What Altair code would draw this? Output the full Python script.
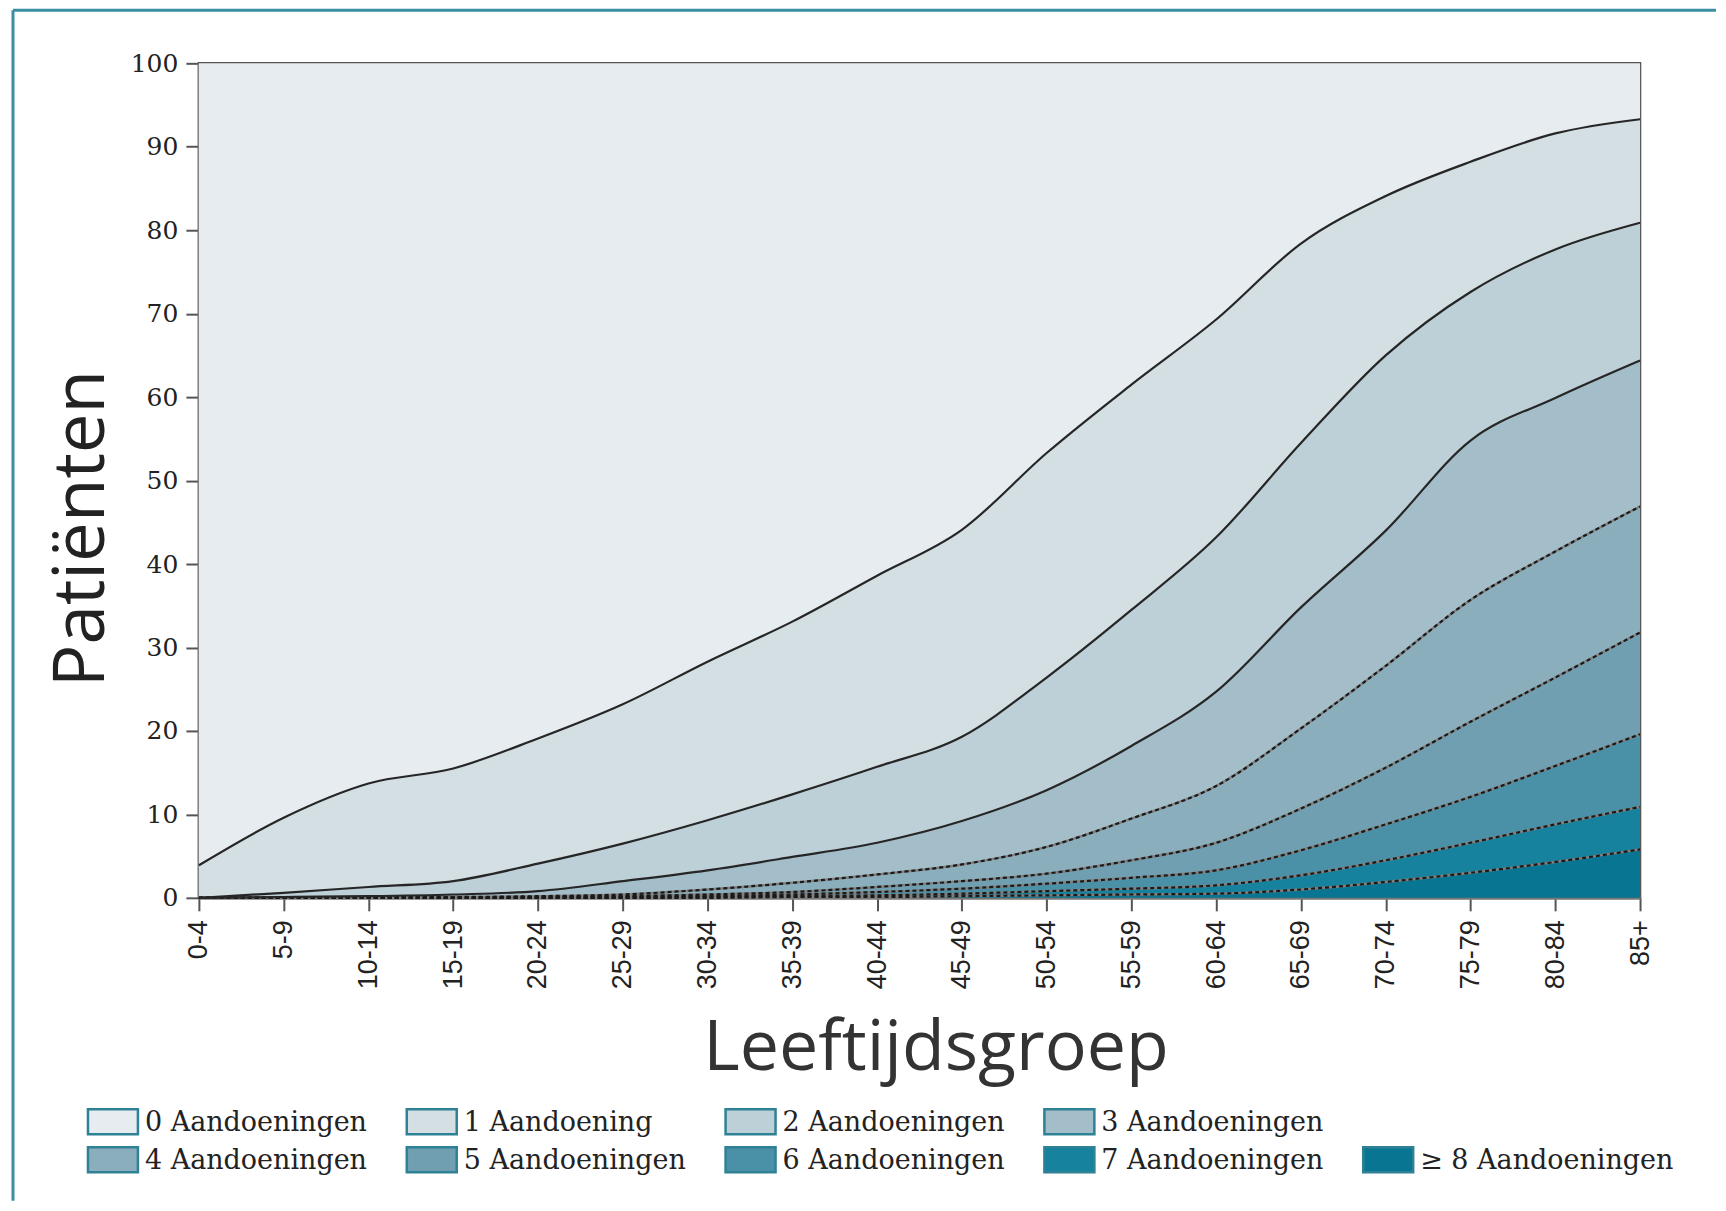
import altair as alt
import pandas as pd

ages = ["0-4", "5-9", "10-14", "15-19", "20-24", "25-29", "30-34", "35-39", "40-44",
        "45-49", "50-54", "55-59", "60-64", "65-69", "70-74", "75-79", "80-84", "85+"]

categories = ["0 Aandoeningen", "1 Aandoening", "2 Aandoeningen", "3 Aandoeningen",
              "4 Aandoeningen", "5 Aandoeningen", "6 Aandoeningen", "7 Aandoeningen",
              "\u2265 8 Aandoeningen"]

# cumulative share of patients (%) with at least k conditions
ge1 = [3.9, 9.6, 13.7, 15.5, 19.1, 23.2, 28.3, 33.1, 38.6, 44.1, 53.3, 61.5, 69.3, 78.4, 84.1, 88.2, 91.6, 93.3]
ge2 = [0.0, 0.6, 1.3, 2.0, 4.1, 6.5, 9.3, 12.4, 15.7, 19.3, 26.4, 34.5, 43.2, 54.5, 65.0, 72.6, 77.7, 80.9]
ge3 = [0.0, 0.1, 0.2, 0.4, 0.8, 2.0, 3.3, 4.9, 6.6, 9.2, 12.9, 18.2, 24.7, 34.8, 44.0, 54.8, 59.9, 64.4]
ge4 = [0.0, 0.0, 0.1, 0.1, 0.2, 0.4, 1.0, 1.8, 2.8, 4.0, 6.1, 9.5, 13.4, 20.3, 27.8, 35.7, 41.5, 46.9]
ge5 = [0.0, 0.0, 0.0, 0.0, 0.1, 0.2, 0.4, 0.7, 1.3, 2.0, 2.9, 4.5, 6.6, 10.7, 15.6, 21.1, 26.4, 31.8]
ge6 = [0.0, 0.0, 0.0, 0.0, 0.0, 0.1, 0.2, 0.4, 0.7, 1.1, 1.7, 2.4, 3.3, 5.7, 8.8, 12.1, 15.8, 19.6]
ge7 = [0.0, 0.0, 0.0, 0.0, 0.0, 0.0, 0.1, 0.2, 0.3, 0.5, 0.8, 1.1, 1.5, 2.7, 4.5, 6.6, 8.8, 10.9]
ge8 = [0.0, 0.0, 0.0, 0.0, 0.0, 0.0, 0.0, 0.1, 0.1, 0.2, 0.3, 0.4, 0.5, 1.0, 1.9, 3.0, 4.3, 5.8]

palette = ["#E6ECEF", "#D4DFE4", "#BDCFD7", "#A4BEC9", "#8BAEBC",
           "#6F9FB1", "#4A90A7", "#17829D", "#087592"]

y_ticks = list(range(0, 101, 10))

# ---- build tables
top = [100.0] * len(ages)
bottom = [0.0] * len(ages)
bounds = [top, ge1, ge2, ge3, ge4, ge5, ge6, ge7, ge8, bottom]

area_rows = []
for k, cat in enumerate(categories):
    for j, age in enumerate(ages):
        area_rows.append({"age": age, "cat": cat, "order": k,
                          "upper": bounds[k][j], "lower": bounds[k + 1][j]})
area_df = pd.DataFrame(area_rows)

line_rows = []
for k in range(1, 9):
    for j, age in enumerate(ages):
        line_rows.append({"age": age, "b": k, "value": bounds[k][j]})
line_df = pd.DataFrame(line_rows)
solid_df = line_df[line_df["b"] <= 3]
dash_df = line_df[line_df["b"] >= 4]

leg_rows = []
for i, cat in enumerate(categories):
    leg_rows.append({"cat": cat, "row": 0 if i < 4 else 1, "col": i if i < 4 else i - 4})
leg_df = pd.DataFrame(leg_rows)

# ---- scales / axes
x_axis = alt.Axis(labelAngle=-90, labelFont="Liberation Sans", labelFontSize=27,
                  labelColor="#222", tickSize=13, tickColor="#555", tickWidth=2,
                  labelPadding=9, domainColor="#777", domainWidth=3,
                  title="Leeftijdsgroep", titleFont="Open Sans", titleFontSize=70,
                  titleFontWeight="normal", titleColor="#333", titlePadding=26,
                  titleX=737, grid=False)
y_axis = alt.Axis(values=y_ticks, labelFont="DejaVu Serif", labelFontSize=25,
                  labelColor="#222", tickSize=13, tickColor="#555", tickWidth=2,
                  labelPadding=8, domainColor="#777", domainWidth=3,
                  title="Patiënten", titleFont="Open Sans", titleFontSize=71,
                  titleFontWeight="normal", titleColor="#222", titlePadding=12,
                  titleY=465, grid=False)
x_scale = alt.Scale(type="point", padding=0, domain=ages)
y_scale = alt.Scale(domain=[0, 100], nice=False)
fill_scale = alt.Scale(domain=categories, range=palette)

areas = alt.Chart(area_df).mark_area(interpolate="monotone", opacity=1).encode(
    x=alt.X("age:N", scale=x_scale, axis=x_axis, sort=ages),
    y=alt.Y("upper:Q", scale=y_scale, axis=y_axis),
    y2="lower:Q",
    fill=alt.Fill("cat:N", scale=fill_scale, legend=None),
    detail="cat:N",
)

solid_lines = alt.Chart(solid_df).mark_line(interpolate="monotone", color="#262626",
                                            strokeWidth=2.2).encode(
    x=alt.X("age:N", scale=x_scale, axis=x_axis, sort=ages),
    y=alt.Y("value:Q", scale=y_scale, axis=y_axis),
    detail="b:N",
)
base_lines = alt.Chart(dash_df).mark_line(interpolate="monotone", color="#808080",
                                          strokeWidth=2.4).encode(
    x=alt.X("age:N", scale=x_scale, axis=x_axis, sort=ages),
    y=alt.Y("value:Q", scale=y_scale, axis=y_axis),
    detail="b:N",
)
dash_lines = alt.Chart(dash_df).mark_line(interpolate="monotone", color="#1a1a1a",
                                          strokeWidth=2.2, strokeDash=[4, 3]).encode(
    x=alt.X("age:N", scale=x_scale, axis=x_axis, sort=ages),
    y=alt.Y("value:Q", scale=y_scale, axis=y_axis),
    detail="b:N",
)

main = alt.layer(areas, base_lines, dash_lines, solid_lines)

# ---- legend (two rows, grid of five columns)
leg_x = alt.X("col:Q", scale=alt.Scale(domain=[0, 4], range=[-86, 1190]), axis=None)
leg_y = alt.Y("row:Q", scale=alt.Scale(domain=[0, 1], range=[1059, 1097]), axis=None)

leg_sym = alt.Chart(leg_df).mark_point(
    shape="M-1,-0.5H1V0.5H-1Z", size=2500, filled=True, opacity=1,
    stroke="#2f8196", strokeWidth=2.5).encode(
    x=leg_x, y=leg_y,
    fill=alt.Fill("cat:N", scale=fill_scale, legend=None),
)
leg_txt = alt.Chart(leg_df).mark_text(
    align="left", baseline="middle", dx=32, dy=1, font="DejaVu Serif", fontSize=27,
    color="#222").encode(x=leg_x, y=leg_y, text="cat:N")

legend = alt.layer(leg_sym, leg_txt)

# ---- teal frame (top and left edges of the slide)
frame_df = pd.DataFrame({"f": [0]})
frame_left = alt.Chart(frame_df).mark_rule(color="#3b8fa3", strokeWidth=3).encode(
    x=alt.value(-186), y=alt.value(-53), y2=alt.value(1138))
frame_top = alt.Chart(frame_df).mark_rule(color="#3b8fa3", strokeWidth=3).encode(
    x=alt.value(-186), x2=alt.value(1518), y=alt.value(-53))

chart = alt.layer(main, legend, frame_left, frame_top).resolve_scale(
    x="independent", y="independent"
).properties(
    width=1442, height=835,
    padding={"left": 3, "top": 0, "right": 0, "bottom": 0},
    background="white",
).configure_view(stroke="#555", strokeWidth=2.5)

chart.save("out.html", embed_options={"renderer": "svg", "actions": False})
